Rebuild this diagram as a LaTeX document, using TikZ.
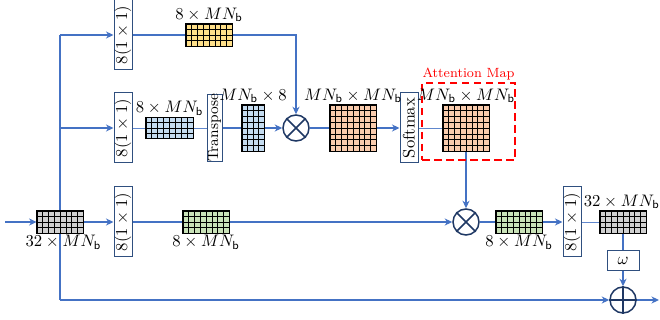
\documentclass[tikz,border=0pt]{standalone}
\usepackage{graphicx}
\usetikzlibrary{arrows.meta,calc,backgrounds}
\definecolor{lblue}{HTML}{4472C4}
\definecolor{navy}{HTML}{1F3864}
\definecolor{boxc}{HTML}{2F4F7F}
\definecolor{cyel}{HTML}{FFE08A}
\definecolor{cblue}{HTML}{C5DCF0}
\definecolor{cpeach}{HTML}{F8CBAD}
\definecolor{cgreen}{HTML}{C9E2B8}
\definecolor{cgray}{HTML}{D0D0D0}
\tikzset{
  conn/.style={draw=lblue, line width=0.8pt},
  thinconn/.style={draw=lblue!85, line width=0.5pt},
  arr/.style={conn, -{Stealth[length=4.5pt,width=4.2pt,inset=1.4pt]}},
  convbox/.style={draw=boxc, line width=0.6pt, fill=white, minimum width=10.8pt, minimum height=42pt, inner sep=0pt},
  gridbox/.style={draw=black, line width=0.5pt, inner sep=0pt},
  gline/.style={draw=black, line width=0.3pt},
  opnode/.style={circle, draw=navy, line width=0.9pt, fill=white, minimum size=15.6pt, inner sep=0pt},
  lab/.style={inner sep=1pt, font=\normalsize}
}
\newcommand\gridmat[8]{%
  \node[gridbox, fill=#8, minimum width=#4*0.6pt, minimum height=#5*0.6pt] (#1) at (#2,#3) {};
  \pgfmathtruncatemacro\gmcols{#6-1}%
  \pgfmathtruncatemacro\gmrows{#7-1}%
  \foreach \gi in {1,...,\gmcols} \draw[gline] ($(#1.north west)!{\gi/#6}!(#1.north east)$) -- ($(#1.south west)!{\gi/#6}!(#1.south east)$);
  \foreach \gj in {1,...,\gmrows} \draw[gline] ($(#1.north west)!{\gj/#7}!(#1.south west)$) -- ($(#1.north east)!{\gj/#7}!(#1.south east)$);
  \draw[gridbox] (#1.north west) rectangle (#1.south east);
}
\newcommand\convtxt{\rotatebox{90}{$8(1\times 1)$}}
\begin{document}
\begin{tikzpicture}[x=0.6pt,y=-0.6pt]
\useasboundingbox (0,0) rectangle (660,320);

% conv boxes
\node[convbox] (conv1) at (123,35) {\convtxt};
\node[convbox] (conv2) at (123,128) {\convtxt};
\node[convbox] (conv3) at (123,222) {\convtxt};
\node[convbox] (conv4) at (572,222) {\convtxt};

% grids
\gridmat{yel}{209}{35}{46}{22}{8}{4}{cyel}
\gridmat{blu}{169.5}{128}{47}{21}{8}{4}{cblue}
\gridmat{tall}{253}{128}{22}{46}{4}{8}{cblue}
\gridmat{pch1}{353}{128}{46}{46}{8}{8}{cpeach}
\gridmat{pch2}{466}{128}{46}{46}{8}{8}{cpeach}
\gridmat{gray1}{60}{222}{46}{22}{8}{4}{cgray}
\gridmat{grn1}{206}{222}{46}{22}{8}{4}{cgreen}
\gridmat{grn2}{519}{222}{46}{22}{8}{4}{cgreen}
\gridmat{gray2}{623}{222}{46}{22}{8}{4}{cgray}

% other boxes
\node[convbox, minimum width=9pt, minimum height=38.4pt] (trans) at (214.5,128) {\rotatebox{90}{\small Transpose}};
\node[convbox] (soft) at (409,128) {\rotatebox{90}{Softmax}};
\node[draw=boxc, line width=0.6pt, fill=white, minimum width=19.2pt, minimum height=12pt, inner sep=0pt] (omega) at (623,261) {$\omega$};

% operators
\node[opnode] (ot1) at (296,128) {};
\draw[navy, line width=0.9pt] (ot1.45) -- (ot1.225) (ot1.135) -- (ot1.315);
\node[opnode] (ot2) at (466,222) {};
\draw[navy, line width=0.9pt] (ot2.45) -- (ot2.225) (ot2.135) -- (ot2.315);
\node[opnode] (opl) at (623,300) {};
\draw[navy, line width=0.9pt] (opl.north) -- (opl.south) (opl.west) -- (opl.east);

% attention map frame
\node[draw=red, dashed, dash pattern=on 4.5pt off 2.7pt, line width=1pt, minimum width=55.8pt, minimum height=46.2pt, inner sep=0pt] (attn) at (468.5,121.5) {};
\node[red, font=\footnotesize, inner sep=1pt, above] (attnlab) at (attn.north) {Attention Map};

% labels
\node[lab, above] (lyel) at (yel.north) {$8\times MN_{\mathsf{b}}$};
\node[lab, above] (lblu) at (blu.north) {$8\times MN_{\mathsf{b}}$};
\node[lab, above] (ltall) at (tall.north) {$MN_{\mathsf{b}}\times 8$};
\node[lab, above] (lpch1) at (pch1.north) {$MN_{\mathsf{b}}\times MN_{\mathsf{b}}$};
\node[lab, above] (lpch2) at (pch2.north) {$MN_{\mathsf{b}}\times MN_{\mathsf{b}}$};
\node[lab, below, xshift=2pt] (lgray1) at (gray1.south) {$32\times MN_{\mathsf{b}}$};
\node[lab, below] (lgrn1) at (grn1.south) {$8\times MN_{\mathsf{b}}$};
\node[lab, below] (lgrn2) at (grn2.south) {$8\times MN_{\mathsf{b}}$};
\node[lab, above, xshift=-0.8pt] (lgray2) at (gray2.north) {$32\times MN_{\mathsf{b}}$};

% coordinates
\coordinate (vtop) at (60,35);
\coordinate (vbot) at (60,300);
\coordinate (inp) at (5,222);
\coordinate (outp) at (659,300);

\begin{scope}[on background layer]
\draw[conn] (vtop) -- (vbot);
\draw[arr] (vtop) -- (conv1.west);
\draw[arr] (vtop |- conv2) -- (conv2.west);
\draw[arr] (inp) -- (gray1.west);
\draw[arr] (gray1.east) -- (conv3.west);
\draw[conn] (conv1.east) -- (yel.west);
\draw[arr] (yel.east) -| (ot1.north);
\draw[thinconn] (conv2.east) -- (blu.west);
\draw[thinconn] (blu.east) -- (trans.west);
\draw[conn] (trans.east) -- (tall.west);
\draw[arr] (tall.east) -- (ot1.west);
\draw[conn] (ot1.east) -- (pch1.west);
\draw[arr] (pch1.east) -- (soft.west);
\draw[thinconn] (soft.east) -- (pch2.west);
\draw[arr] (pch2.south) -- (ot2.north);
\draw[conn] (conv3.east) -- (grn1.west);
\draw[arr] (grn1.east) -- (ot2.west);
\draw[conn] (ot2.east) -- (grn2.west);
\draw[arr] (grn2.east) -- (conv4.west);
\draw[thinconn] (conv4.east) -- (gray2.west);
\draw[conn] (gray2.south) -- (omega.north);
\draw[arr] (omega.south) -- (opl.north);
\draw[arr] (vbot) -- (opl.west);
\draw[arr] (opl.east) -- (outp);
\end{scope}
\end{tikzpicture}
\end{document}
